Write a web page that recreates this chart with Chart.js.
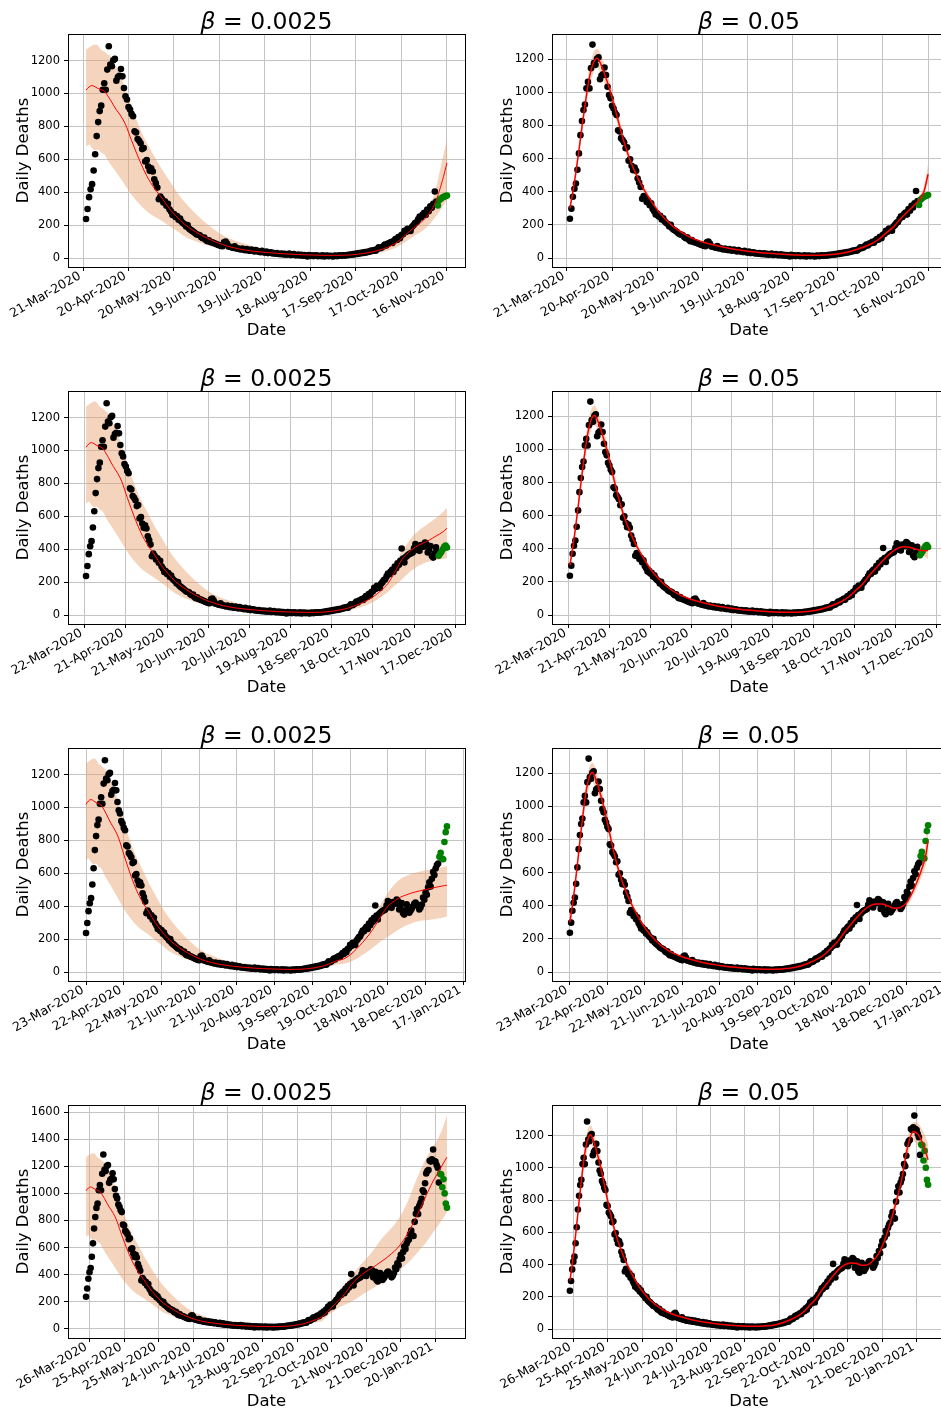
<!DOCTYPE html>
<html>
<head>
<meta charset="utf-8">
<script src="https://cdn.jsdelivr.net/npm/chart.js@4.4.0/dist/chart.umd.min.js"></script>
<style>
  body { margin: 0; background: #fff; width: 941px; height: 1408px; overflow: hidden; position: relative; }
  canvas { position: absolute; }
</style>
</head>
<body>
<script>
// day 0 of every series
const startDate = Date.UTC(2020, 2, 23);

// observed daily deaths, one value per day from day 0
const deaths = [
  237, 298, 370, 418, 449, 532, 631, 741, 826, 893,
  926, 1023, 1062, 1023, 1145, 1287, 1175, 1165, 1202, 1210,
  1078, 1100, 1108, 1149, 1104, 1033, 983, 963, 918, 902,
  876, 862, 770, 763, 723, 712, 698, 662, 668, 587,
  595, 556, 530, 546, 526, 479, 455, 428, 357, 374,
  360, 338, 345, 318, 330, 296, 283, 262, 268, 250,
  255, 232, 240, 221, 211, 205, 191, 200, 178, 171,
  165, 158, 150, 143, 142, 138, 127, 120, 125, 110,
  102, 108, 97, 96, 92, 88, 85, 80, 78, 74,
  72, 95, 100, 88, 70, 68, 65, 62, 72, 58,
  60, 55, 52, 58, 50, 48, 55, 46, 45, 52,
  44, 40, 48, 42, 38, 36, 44, 35, 33, 40,
  30, 32, 35, 28, 31, 26, 30, 25, 24, 28,
  22, 26, 20, 23, 27, 19, 21, 24, 18, 17,
  22, 16, 20, 14, 18, 15, 10, 19, 13, 16,
  12, 15, 17, 11, 14, 12, 16, 10, 13, 15,
  11, 14, 12, 10, 15, 13, 12, 16, 14, 15,
  17, 15, 19, 18, 21, 20, 24, 22, 27, 25,
  30, 28, 33, 31, 36, 34, 40, 38, 45, 43,
  48, 45, 55, 65, 60, 64, 72, 82, 76, 88,
  90, 98, 92, 105, 115, 110, 128, 120, 140, 145,
  165, 158, 178, 172, 165, 190, 200, 212, 218, 235,
  252, 248, 265, 275, 262, 295, 285, 315, 305, 330,
  404, 343, 320, 352, 360, 368, 372, 376, 380, 405,
  432, 395, 411, 390, 425, 421, 415, 440, 432, 380,
  395, 420, 359, 349, 375, 411, 380, 360, 372, 385,
  400, 415, 422, 410, 401, 380, 392, 410, 453, 440,
  484, 470, 515, 546, 520, 567, 608, 590, 629, 650,
  660, 700, 725, 690, 685, 790, 850, 885, 847, 909,
  930, 961, 1023, 1010, 1075, 1148, 1165, 1173, 1241, 1235,
  1252, 1324, 1240, 1235, 1210, 1190, 1080, 1145, 1140, 1045,
  1105, 1000, 925, 895
];

// last day shown in each row; the final 7 days of each row are held out
const rowEnd = [238, 263, 287, 313];
const heldOut = 7;
const betas = ['0.0025', '0.05'];

const tickLabels1 = ['21-Mar-2020', '20-Apr-2020', '20-May-2020', '19-Jun-2020', '19-Jul-2020', '18-Aug-2020', '17-Sep-2020', '17-Oct-2020', '16-Nov-2020'];
const tickLabels2 = ['22-Mar-2020', '21-Apr-2020', '21-May-2020', '20-Jun-2020', '20-Jul-2020', '19-Aug-2020', '18-Sep-2020', '18-Oct-2020', '17-Nov-2020', '17-Dec-2020'];
const tickLabels3 = ['23-Mar-2020', '22-Apr-2020', '22-May-2020', '21-Jun-2020', '21-Jul-2020', '20-Aug-2020', '19-Sep-2020', '19-Oct-2020', '18-Nov-2020', '18-Dec-2020', '17-Jan-2021'];
const tickLabels4 = ['26-Mar-2020', '25-Apr-2020', '25-May-2020', '24-Jun-2020', '24-Jul-2020', '23-Aug-2020', '22-Sep-2020', '22-Oct-2020', '21-Nov-2020', '21-Dec-2020', '20-Jan-2021'];

// model fits: shared part up to day 200, then a tail per row
const earlyDays = [0, 2, 4, 6, 8, 10, 12, 14, 16, 18, 20, 23, 26, 30, 35, 40, 45, 50, 55, 60, 65, 70, 80, 90, 100, 110, 120, 130, 140, 150, 160, 170, 180, 190, 200];

const lowMidEarly = [1019, 1040, 1048, 1040, 1030, 1023, 1015, 990, 962, 930, 901, 862, 812, 715, 600, 500, 424, 365, 300, 250, 205, 172, 120, 82, 57, 42, 33, 26, 21, 18, 16, 17, 24, 40, 70];
const lowHiEarly = [1267, 1280, 1290, 1297, 1290, 1265, 1255, 1240, 1226, 1195, 1160, 1100, 1030, 920, 800, 700, 620, 540, 470, 400, 340, 290, 205, 140, 100, 72, 54, 42, 34, 29, 26, 27, 35, 60, 97];
const lowLoEarly = [678, 690, 668, 655, 660, 640, 630, 600, 570, 545, 520, 480, 440, 385, 330, 285, 252, 225, 195, 165, 132, 110, 78, 57, 41, 31, 24, 19, 15, 13, 12, 12, 16, 26, 48];

const highMidEarly = [300, 400, 520, 650, 790, 920, 1040, 1130, 1185, 1205, 1180, 1110, 1030, 900, 730, 590, 485, 400, 330, 268, 220, 180, 125, 92, 70, 52, 40, 30, 24, 19, 17, 19, 27, 50, 85];
const highHiEarly = [318, 422, 548, 684, 830, 965, 1095, 1190, 1245, 1262, 1240, 1165, 1080, 942, 765, 618, 508, 420, 346, 281, 231, 189, 131, 97, 74, 55, 42, 32, 26, 20, 18, 20, 29, 54, 90];
const highLoEarly = [282, 378, 492, 616, 750, 875, 985, 1070, 1125, 1148, 1120, 1055, 980, 858, 695, 562, 462, 380, 314, 255, 209, 171, 119, 87, 66, 49, 38, 28, 22, 18, 16, 18, 25, 46, 80];

const tailDays1 = [205, 210, 215, 220, 225, 230, 235, 238];
const lowMidTail1 = [95, 135, 175, 210, 255, 330, 470, 578];
const lowHiTail1 = [125, 170, 215, 255, 305, 400, 600, 720];
const lowLoTail1 = [65, 95, 125, 155, 190, 245, 310, 352];
const highMidTail1 = [112, 150, 188, 240, 285, 330, 395, 505];
const highHiTail1 = [118, 158, 197, 251, 298, 347, 425, 565];
const highLoTail1 = [106, 142, 179, 229, 272, 315, 370, 455];

const tailDays2 = [205, 210, 215, 220, 225, 230, 235, 240, 245, 250, 255, 260, 263];
const lowMidTail2 = [90, 115, 150, 192, 260, 335, 380, 413, 435, 455, 480, 505, 528];
const lowHiTail2 = [110, 140, 185, 240, 305, 385, 445, 495, 530, 560, 590, 625, 650];
const lowLoTail2 = [62, 82, 110, 140, 180, 215, 255, 288, 310, 325, 335, 340, 345];
const highMidTail2 = [112, 150, 188, 240, 285, 330, 370, 400, 412, 408, 395, 388, 390];
const highHiTail2 = [118, 158, 197, 251, 298, 345, 388, 420, 432, 430, 420, 422, 445];
const highLoTail2 = [106, 142, 179, 229, 272, 315, 352, 380, 392, 386, 370, 354, 338];

const tailDays3 = [205, 210, 215, 220, 225, 230, 235, 240, 245, 250, 255, 260, 265, 270, 275, 280, 285, 287];
const lowMidTail3 = [80, 104, 140, 180, 227, 282, 345, 400, 430, 455, 470, 483, 493, 501, 510, 518, 525, 528];
const lowHiTail3 = [100, 130, 175, 225, 285, 350, 420, 480, 530, 565, 585, 600, 610, 618, 625, 632, 640, 645];
const lowLoTail3 = [50, 63, 80, 105, 130, 160, 190, 214, 240, 265, 285, 300, 310, 315, 320, 325, 333, 337];
const highMidTail3 = [112, 150, 188, 240, 285, 330, 370, 398, 410, 410, 398, 385, 390, 420, 490, 580, 700, 790];
const highHiTail3 = [118, 158, 197, 251, 298, 345, 388, 418, 432, 435, 422, 410, 415, 445, 520, 620, 770, 930];
const highLoTail3 = [106, 142, 179, 229, 272, 315, 352, 378, 388, 385, 374, 360, 365, 395, 460, 540, 640, 700];

const tailDays4 = [205, 210, 215, 220, 225, 230, 235, 240, 245, 250, 255, 260, 265, 270, 275, 280, 285, 290, 295, 300, 305, 310, 313];
const lowMidTail4 = [90, 130, 175, 215, 265, 325, 370, 405, 435, 460, 490, 520, 555, 595, 650, 720, 800, 890, 985, 1075, 1150, 1225, 1268];
const lowHiTail4 = [115, 165, 230, 280, 335, 390, 440, 490, 535, 590, 650, 700, 745, 800, 870, 960, 1070, 1170, 1260, 1330, 1400, 1500, 1575];
const lowLoTail4 = [60, 100, 130, 160, 180, 200, 225, 255, 280, 305, 335, 360, 390, 420, 455, 495, 540, 590, 640, 700, 760, 820, 860];
const highMidTail4 = [112, 150, 188, 240, 285, 330, 370, 398, 410, 408, 395, 398, 425, 470, 550, 660, 785, 930, 1125, 1225, 1200, 1120, 1050];
const highHiTail4 = [118, 158, 197, 251, 298, 345, 388, 418, 432, 432, 418, 420, 448, 495, 578, 692, 825, 975, 1180, 1285, 1270, 1205, 1150];
const highLoTail4 = [106, 142, 179, 229, 272, 315, 352, 378, 388, 386, 372, 376, 402, 445, 522, 628, 745, 885, 1070, 1165, 1130, 1040, 960];

const tickLabels = [tickLabels1, tickLabels2, tickLabels3, tickLabels4];
const tailDays = [tailDays1, tailDays2, tailDays3, tailDays4];
const fitParts = [
  { mid: [lowMidEarly, [lowMidTail1, lowMidTail2, lowMidTail3, lowMidTail4]],
    hi: [lowHiEarly, [lowHiTail1, lowHiTail2, lowHiTail3, lowHiTail4]],
    lo: [lowLoEarly, [lowLoTail1, lowLoTail2, lowLoTail3, lowLoTail4]] },
  { mid: [highMidEarly, [highMidTail1, highMidTail2, highMidTail3, highMidTail4]],
    hi: [highHiEarly, [highHiTail1, highHiTail2, highHiTail3, highHiTail4]],
    lo: [highLoEarly, [highLoTail1, highLoTail2, highLoTail3, highLoTail4]] }
];

const FONT = '"DejaVu Sans"';
const ROW_H = 357;
const MONTHS = { Jan: 0, Feb: 1, Mar: 2, Apr: 3, May: 4, Jun: 5, Jul: 6, Aug: 7, Sep: 8, Oct: 9, Nov: 10, Dec: 11 };

Chart.defaults.font.family = FONT;

function dayOf(label) {
  const [d, m, y] = label.split('-');
  return Math.round((Date.UTC(+y, MONTHS[m], +d) - startDate) / 86400000);
}

function fitSeries(part, row) {
  const days = earlyDays.concat(tailDays[row]);
  const vals = part[0].concat(part[1][row]);
  return days.map((d, i) => ({ x: d, y: vals[i] }));
}

// title, axis labels, rotated date labels and the box round the axes
function textPlugin(beta, labels, tickDays) {
  return {
    id: 'panelText',
    afterDraw(chart) {
      const { ctx, chartArea: a } = chart;
      const xs = chart.scales.x;
      const cx = (a.left + a.right) / 2;
      ctx.save();
      ctx.strokeStyle = '#000';
      ctx.lineWidth = 1;
      ctx.strokeRect(Math.round(a.left) + 0.5, Math.round(a.top) + 0.5, Math.round(a.right - a.left), Math.round(a.bottom - a.top));

      ctx.fillStyle = '#000';
      ctx.textBaseline = 'alphabetic';
      ctx.textAlign = 'left';
      const rest = ' = ' + beta;
      ctx.font = 'italic 23.5px ' + FONT;
      const wb = ctx.measureText('β').width;
      ctx.font = '23.5px ' + FONT;
      const wr = ctx.measureText(rest).width;
      const x0 = cx - (wb + wr) / 2;
      ctx.font = 'italic 23.5px ' + FONT;
      ctx.fillText('β', x0, a.top - 5);
      ctx.font = '23.5px ' + FONT;
      ctx.fillText(rest, x0 + wb, a.top - 5);

      ctx.font = '16.5px ' + FONT;
      ctx.textAlign = 'center';
      ctx.fillText('Date', cx, a.bottom + 68);
      ctx.save();
      ctx.translate(a.left - 44.5, (a.top + a.bottom) / 2);
      ctx.rotate(-Math.PI / 2);
      ctx.textBaseline = 'middle';
      ctx.fillText('Daily Deaths', 0, 0);
      ctx.restore();

      ctx.font = '12.5px ' + FONT;
      ctx.textAlign = 'right';
      ctx.textBaseline = 'alphabetic';
      labels.forEach((lab, i) => {
        const px = xs.getPixelForValue(tickDays[i]);
        ctx.save();
        ctx.translate(px - 1.5, a.bottom + 11);
        ctx.rotate(-Math.PI / 6);
        ctx.fillText(lab, 0, 0);
        ctx.restore();
      });
      ctx.restore();
    }
  };
}

function drawPanel(canvas, row, col) {
  const N = rowEnd[row];
  const split = N - heldOut + 1;
  const black = deaths.slice(0, split).map((v, i) => ({ x: i, y: v }));
  const green = deaths.slice(split, N + 1).map((v, i) => ({ x: split + i, y: v }));
  const part = fitParts[col];
  const mid = fitSeries(part.mid, row);
  const hi = fitSeries(part.hi, row);
  const lo = fitSeries(part.lo, row);

  const all = deaths.slice(0, N + 1).concat(hi.map(p => p.y), lo.map(p => p.y));
  const yLo = Math.min(...all), yHi = Math.max(...all);
  const yPad = (yHi - yLo) * 0.05;

  const labels = tickLabels[row];
  const tickDays = labels.map(dayOf);
  const yAxisW = col ? 82 : 68;
  const rightPad = canvas.width - yAxisW - 397;

  new Chart(canvas, {
    type: 'line',
    data: {
      datasets: [
        { data: mid, borderColor: '#ff0000', borderWidth: col ? 1.5 : 1, pointRadius: 0, cubicInterpolationMode: 'monotone', fill: false, order: 0 },
        { data: green, showLine: false, pointRadius: 3.3, pointBackgroundColor: '#008000', pointBorderWidth: 0, order: 1 },
        { data: black, showLine: false, pointRadius: 3.3, pointBackgroundColor: '#000', pointBorderWidth: 0, order: 2 },
        { data: hi, borderWidth: 0, pointRadius: 0, cubicInterpolationMode: 'monotone', fill: '+1', backgroundColor: 'rgba(232,160,110,0.45)', order: 3 },
        { data: lo, borderWidth: 0, pointRadius: 0, cubicInterpolationMode: 'monotone', fill: false, order: 4 }
      ]
    },
    options: {
      responsive: false,
      animation: false,
      devicePixelRatio: 1,
      events: [],
      layout: { padding: { left: 0, right: rightPad, top: 34, bottom: 0 } },
      plugins: { legend: { display: false }, tooltip: { enabled: false } },
      scales: {
        x: {
          type: 'linear',
          min: -0.05 * N,
          max: 1.05 * N,
          afterBuildTicks: s => { s.ticks = tickDays.map(v => ({ value: v })); },
          afterFit: s => { s.height = 90; },
          grid: { color: '#c4c4c4', lineWidth: 1, tickLength: 4, tickColor: '#000', tickWidth: 1 },
          border: { display: false },
          ticks: { display: false }
        },
        y: {
          type: 'linear',
          min: yLo - yPad,
          max: yHi + yPad,
          afterBuildTicks: s => {
            const t = [];
            for (let v = 0; v <= s.max; v += 200) t.push({ value: v });
            s.ticks = t;
          },
          afterFit: s => { s.width = yAxisW; },
          grid: { color: '#c4c4c4', lineWidth: 1, tickLength: 4, tickColor: '#000', tickWidth: 1 },
          border: { display: false },
          ticks: { color: '#000', padding: 4, font: { size: 11.5 }, callback: v => String(v) }
        }
      }
    },
    plugins: [textPlugin(betas[col], labels, tickDays)]
  });
}

for (let r = 0; r < 4; r++) {
  for (let c = 0; c < 2; c++) {
    const cv = document.createElement('canvas');
    cv.width = c ? 480 : 470;
    cv.height = ROW_H;
    cv.style.left = (c ? 470 : 0) + 'px';
    cv.style.top = (r * ROW_H) + 'px';
    document.body.appendChild(cv);
    drawPanel(cv, r, c);
  }
}
</script>
</body>
</html>
